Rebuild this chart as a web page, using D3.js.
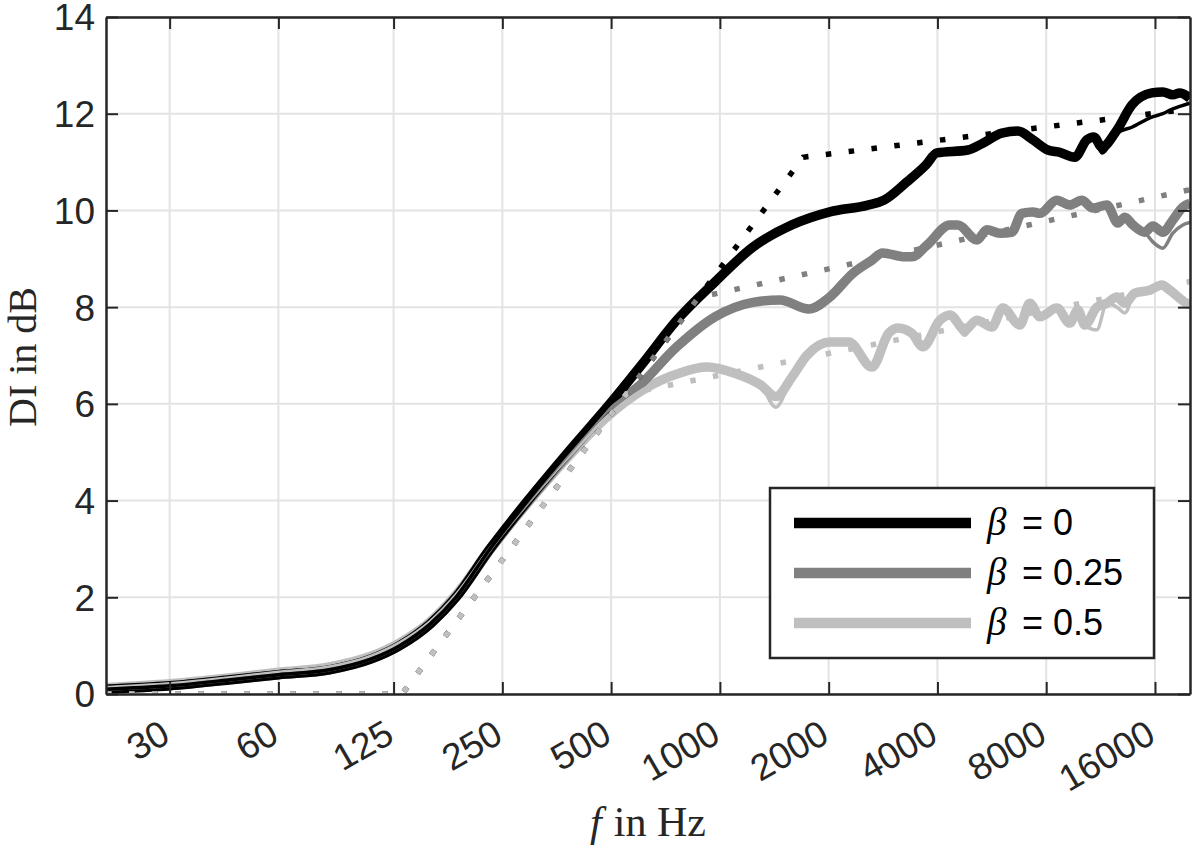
<!DOCTYPE html>
<html>
<head>
<meta charset="utf-8">
<script src="https://cdn.jsdelivr.net/npm/d3@7"></script>
<style>
  body { margin: 0; background: #fff; }
  svg { display: block; }
  .sans { font-family: "Liberation Sans", Arial, sans-serif; }
  .serif { font-family: "Liberation Serif", "DejaVu Serif", serif; }
</style>
</head>
<body>
<svg width="1200" height="847"></svg>
<script>
// tick values
const xTicks = [30, 60, 125, 250, 500, 1000, 2000, 4000, 8000, 16000];
const yTicks = [0, 2, 4, 6, 8, 10, 12, 14];

// beta = 0 (black)
const freqB0 = [20, 30, 45, 60, 83, 108, 130, 158, 186, 231, 294, 380, 496, 612, 760, 969, 1234, 1582, 2015, 2568,
  2842, 3292, 3716, 3986, 4856, 5344, 6030, 6676, 7346, 8084, 8724, 9600, 10364, 10836, 11404, 12550, 13804, 15680, 16818, 17926,
  18744, 20000];
const diB0 = [0.1, 0.17, 0.3, 0.4, 0.5, 0.72, 1.0, 1.45, 2.0, 3.0, 4.0, 5.0, 6.0, 6.84, 7.73, 8.52, 9.24, 9.7, 9.97, 10.11,
  10.21, 10.59, 10.94, 11.19, 11.25, 11.39, 11.6, 11.64, 11.46, 11.25, 11.2, 11.1, 11.46, 11.52, 11.31, 11.66, 12.18, 12.43, 12.45, 12.39,
  12.43, 12.32];
const diB0Thin = [0.1, 0.17, 0.3, 0.4, 0.5, 0.72, 1.0, 1.45, 2.0, 3.0, 4.0, 5.0, 6.0, 6.84, 7.73, 8.52, 9.24, 9.7, 9.97, 10.11,
  10.21, 10.59, 10.94, 11.19, 11.25, 11.39, 11.6, 11.64, 11.46, 11.25, 11.2, 11.1, 11.46, 11.52, 11.19, 11.6, 11.72, 11.93, 12.0, 12.1,
  12.15, 12.22];

// beta = 0.25 (grey)
const freqB25 = [20, 30, 45, 60, 83, 108, 130, 158, 186, 231, 294, 380, 496, 593, 760, 969, 1234, 1466, 1762, 2015,
  2334, 2634, 2818, 3250, 3398, 3740, 4330, 4556, 5144, 5482, 5954, 6426, 6848, 7346, 7682, 8560, 9298, 10038, 10766, 11772,
  12630, 13204, 13892, 14994, 15780, 16818, 17926, 19106, 20000];
const diB25 = [0.1, 0.17, 0.3, 0.4, 0.5, 0.72, 1.0, 1.45, 2.0, 2.98, 3.97, 4.95, 5.9, 6.35, 7.18, 7.8, 8.1, 8.15, 7.96, 8.21,
  8.7, 8.97, 9.12, 9.04, 9.04, 9.28, 9.7, 9.7, 9.39, 9.6, 9.53, 9.55, 9.94, 9.97, 9.94, 10.21, 10.11, 10.21, 10.05, 10.11,
  9.74, 9.86, 9.7, 9.55, 9.68, 9.55, 9.8, 10.07, 10.15];
const diB25Thin = [0.1, 0.17, 0.3, 0.4, 0.5, 0.72, 1.0, 1.45, 2.0, 2.98, 3.97, 4.95, 5.9, 6.35, 7.18, 7.8, 8.1, 8.15, 7.96, 8.21,
  8.7, 8.97, 9.12, 9.04, 9.04, 9.28, 9.7, 9.7, 9.39, 9.6, 9.53, 9.55, 9.94, 9.97, 9.94, 10.21, 10.11, 10.21, 10.05, 10.11,
  9.74, 9.86, 9.7, 9.55, 9.35, 9.22, 9.53, 9.7, 9.75];

// beta = 0.5 (light grey)
const freqB50 = [20, 30, 45, 60, 83, 108, 130, 158, 186, 231, 294, 380, 487, 612, 775, 921, 1093, 1298, 1428, 1582,
  1740, 2015, 2274, 2634, 2930, 3108, 3398, 3646, 4062, 4330, 4764, 5144, 5658, 6068, 6762, 7206, 7682, 8560, 9298, 9786,
  10232, 11046, 11772, 12550, 13204, 14072, 15480, 16712, 17586, 19596, 20000];
const diB50 = [0.13, 0.21, 0.34, 0.45, 0.56, 0.78, 1.06, 1.5, 2.05, 3.0, 3.95, 4.9, 5.73, 6.29, 6.64, 6.76, 6.64, 6.39, 6.15, 6.55,
  7.0, 7.28, 7.28, 6.76, 7.46, 7.57, 7.46, 7.18, 7.73, 7.84, 7.53, 7.73, 7.59, 7.98, 7.63, 8.08, 7.8, 7.98, 7.67, 7.94,
  7.63, 8.0, 8.08, 8.21, 8.08, 8.29, 8.35, 8.46, 8.35, 8.08, 8.05];
const diB50Thin = [0.13, 0.21, 0.34, 0.45, 0.56, 0.78, 1.06, 1.5, 2.05, 3.0, 3.95, 4.9, 5.73, 6.29, 6.64, 6.76, 6.64, 6.39, 5.93, 6.55,
  7.0, 7.28, 7.28, 6.76, 7.46, 7.57, 7.46, 7.18, 7.73, 7.84, 7.42, 7.73, 7.59, 7.98, 7.63, 8.08, 7.8, 7.98, 7.67, 7.94,
  7.63, 7.53, 8.08, 8.0, 7.88, 8.29, 8.35, 8.46, 8.35, 8.08, 8.05];

// dotted model curves (break points)
const freqModelB0 = [20, 132, 1700, 20000];
const diModelB0 = [0, 0, 11.1, 12.1];
const freqModelB25 = [20, 132, 872, 20000];
const diModelB25 = [0, 0, 8.2, 10.43];
const freqModelB50 = [20, 132, 552, 20000];
const diModelB50 = [0, 0, 6.21, 8.53];

const legendLabels = ["0", "0.25", "0.5"];
const colors = ["#000000", "#808080", "#bfbfbf"];

const svg = d3.select("svg");
const plotLeft = 106, plotRight = 1190, plotTop = 17, plotBottom = 694;
const axisColor = "#262626";

const x = d3.scaleLog().domain([20, 20000]).range([plotLeft, plotRight]);
const y = d3.scaleLinear().domain([0, 14]).range([plotBottom, plotTop]);

// grid
const grid = svg.append("g").attr("stroke", "#e3e3e3").attr("stroke-width", 2);
grid.selectAll(".gx").data(xTicks).join("line")
  .attr("x1", d => x(d)).attr("x2", d => x(d))
  .attr("y1", plotTop).attr("y2", plotBottom);
grid.selectAll(".gy").data(yTicks).join("line")
  .attr("x1", plotLeft).attr("x2", plotRight)
  .attr("y1", d => y(d)).attr("y2", d => y(d));

svg.append("clipPath").attr("id", "plot-clip")
  .append("rect").attr("x", plotLeft).attr("y", plotTop)
  .attr("width", plotRight - plotLeft).attr("height", plotBottom - plotTop);

const plot = svg.append("g").attr("clip-path", "url(#plot-clip)");
const line = d3.line().x(d => x(d[0])).y(d => y(d[1])).curve(d3.curveMonotoneX);
const lineStraight = d3.line().x(d => x(d[0])).y(d => y(d[1]));

function pairs(fs, vs) {
  return fs.map((f, i) => [f, vs[i]]);
}

const thick = [
  { data: pairs(freqB50, diB50), color: colors[2] },
  { data: pairs(freqB25, diB25), color: colors[1] },
  { data: pairs(freqB0, diB0), color: colors[0] }
];
const thin = [
  { data: pairs(freqB50, diB50Thin), color: colors[2] },
  { data: pairs(freqB25, diB25Thin), color: colors[1] },
  { data: pairs(freqB0, diB0Thin), color: colors[0] }
];
const models = [
  { data: pairs(freqModelB0, diModelB0), color: colors[0] },
  { data: pairs(freqModelB25, diModelB25), color: colors[1] },
  { data: pairs(freqModelB50, diModelB50), color: colors[2] }
];

plot.selectAll(".thick").data(thick).join("path")
  .attr("d", d => line(d.data))
  .attr("fill", "none").attr("stroke", d => d.color)
  .attr("stroke-width", 9.5).attr("stroke-linejoin", "round");

plot.selectAll(".thin").data(thin).join("path")
  .attr("d", d => line(d.data))
  .attr("fill", "none").attr("stroke", d => d.color)
  .attr("stroke-width", 3.5).attr("stroke-linejoin", "round");

plot.selectAll(".model").data(models).join("path")
  .attr("d", d => lineStraight(d.data))
  .attr("fill", "none").attr("stroke", d => d.color)
  .attr("stroke-width", 5.5).attr("stroke-dasharray", "5.5,17.5");

// axes (ticks inward on all four sides)
function styleAxis(g) {
  g.attr("color", axisColor).attr("font-family", null).attr("font-size", null);
  g.select(".domain").attr("stroke-width", 2.5);
  g.selectAll(".tick line").attr("stroke-width", 2);
  g.selectAll(".tick text").attr("class", "sans").attr("fill", axisColor).style("font-size", "37px");
}

const axB = svg.append("g").attr("transform", `translate(0,${plotBottom})`)
  .call(d3.axisBottom(x).tickValues(xTicks).tickFormat(d => d).tickSizeInner(-12).tickSizeOuter(0))
  .call(styleAxis);
axB.selectAll(".tick text")
  .attr("y", null).attr("dy", null)
  .attr("text-anchor", "end")
  .attr("transform", "translate(2,47) rotate(-30)");

svg.append("g").attr("transform", `translate(0,${plotTop})`)
  .call(d3.axisTop(x).tickValues(xTicks).tickFormat("").tickSizeInner(-12).tickSizeOuter(0))
  .call(styleAxis);

svg.append("g").attr("transform", `translate(${plotLeft},0)`)
  .call(d3.axisLeft(y).tickValues(yTicks).tickSizeInner(-12).tickSizeOuter(0).tickPadding(11))
  .call(styleAxis)
  .selectAll(".tick text").attr("dy", "0.35em");

svg.append("g").attr("transform", `translate(${plotRight},0)`)
  .call(d3.axisRight(y).tickValues(yTicks).tickFormat("").tickSizeInner(-12).tickSizeOuter(0))
  .call(styleAxis);

// axis labels
svg.append("text").attr("class", "serif")
  .attr("transform", "translate(36,357) rotate(-90)")
  .attr("text-anchor", "middle")
  .style("font-size", "40px").attr("fill", axisColor)
  .text("DI in dB");

const xl = svg.append("text").attr("class", "serif")
  .attr("x", 648).attr("y", 836)
  .attr("text-anchor", "middle")
  .style("font-size", "42px").attr("fill", axisColor);
xl.append("tspan").attr("font-style", "italic").text("f");
xl.append("tspan").attr("dx", 12).text("in Hz");

// legend
const legend = svg.append("g");
legend.append("rect")
  .attr("x", 770).attr("y", 488).attr("width", 384).attr("height", 170)
  .attr("fill", "#fff").attr("stroke", axisColor).attr("stroke-width", 2.5);
const rows = legend.selectAll(".row").data(legendLabels).join("g")
  .attr("transform", (d, i) => `translate(0,${523 + i * 50})`);
rows.append("line")
  .attr("x1", 794).attr("x2", 971).attr("y1", 0).attr("y2", 0)
  .attr("stroke", (d, i) => colors[i]).attr("stroke-width", 10.5);
const lt = rows.append("text").attr("y", 12).attr("fill", "#000");
lt.append("tspan").attr("class", "serif").attr("x", 987)
  .attr("font-style", "italic").style("font-size", "39px")
  .text("β");
lt.append("tspan").attr("class", "sans").attr("x", 1022)
  .style("font-size", "36px")
  .text(d => "= " + d);
</script>
</body>
</html>
